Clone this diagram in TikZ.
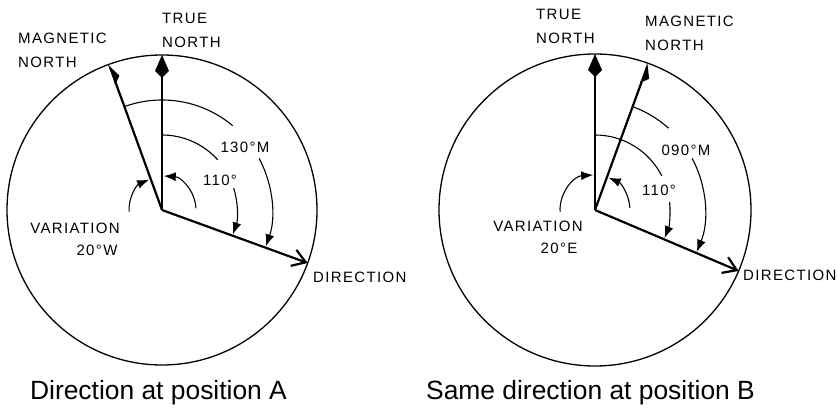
\documentclass[tikz,border=0pt]{standalone}
\usepackage{fontspec}
\setmainfont{Liberation Sans}
\newfontfamily\capsfont[LetterSpace=9]{Liberation Sans}
\usetikzlibrary{arrows.meta}

\tikzset{
 rim/.style={line width=1.3pt},
 needle/.style={line width=2.2pt},
 sweep/.style={line width=1.1pt},
 sweeptip/.style={sweep,-{Latex[length=12pt,width=9pt]}},
 truetip/.style={-{Kite[length=23pt,width=14pt,inset=7pt]}},
 magtip/.style={-{Kite[length=18pt,width=12pt,inset=6pt,right]}},
 caps/.style={font=\capsfont\fontsize{15}{24}\selectfont,inner sep=0pt,align=left},
 caption/.style={font=\fontsize{26.4}{30}\selectfont,inner sep=0pt},
}

\begin{document}
\begin{tikzpicture}[x=1pt,y=1pt]
\useasboundingbox (0,0) rectangle (837,409);
% ---------- position A
\begin{scope}[shift={(162,199)}]
\coordinate (oA) at (0,0);
\coordinate (tnA) at (90:155);
\coordinate (mnA) at (110:155);
\coordinate (dirA) at (-20:155);
\draw[rim] (oA) circle[radius=155pt];
\draw[needle,truetip] (oA)--(tnA);
\draw[needle,magtip] (oA)--(mnA);
\draw[needle,-{Straight Barb[length=13pt,width=17pt]}] (oA)--(dirA);
\draw[sweep] (110:110) arc[start angle=110,end angle=50,radius=110pt];
\draw[sweeptip] (28:110) arc[start angle=28,end angle=-19.3,radius=110pt];
\draw[sweep] (90:75) arc[start angle=90,end angle=42,radius=75pt];
\draw[sweeptip] (17:75) arc[start angle=17,end angle=-19,radius=75pt];
\draw[sweeptip] (3:34) arc[start angle=3,end angle=87,radius=34pt];
\draw[sweeptip] (183:33) arc[start angle=183,end angle=113,radius=33pt];
\node[caps,anchor=west] (tnlabA) at (0,180) {TRUE\\NORTH};
\node[caps,anchor=west] (mnlabA) at (-144,160) {MAGNETIC\\NORTH};
\node[caps,anchor=west] (dirlabA) at (151,-67) {DIRECTION};
\node[caps] (varA) at (-87,-18) {VARIATION};
\node[caps] (varvalA) at (-65,-40) {20°W};
\node[caps] (magA) at (83,63) {130°M};
\node[caps] (trueA) at (58,30) {110°};
\node[caption] (capA) at (-3.5,-183) {Direction at position A};
\end{scope}
% ---------- position B
\begin{scope}[shift={(595,199)}]
\coordinate (oB) at (0,0);
\coordinate (tnB) at (90:156);
\coordinate (mnB) at (70:156);
\coordinate (dirB) at (-23:156);
\draw[rim] (oB) circle[radius=156pt];
\draw[needle,truetip] (oB)--(tnB);
\draw[needle,magtip] (oB)--(mnB);
\draw[needle,-{Straight Barb[length=13pt,width=17pt]}] (oB)--(dirB);
\draw[sweep] (70:110) arc[start angle=70,end angle=48,radius=110pt];
\draw[sweeptip] (28:110) arc[start angle=28,end angle=-22.3,radius=110pt];
\draw[sweep] (90:75) arc[start angle=90,end angle=27,radius=75pt];
\draw[sweeptip] (6:75) arc[start angle=6,end angle=-22,radius=75pt];
\draw[sweeptip] (3:35) arc[start angle=3,end angle=67,radius=35pt];
\draw[sweeptip] (183:35) arc[start angle=183,end angle=93,radius=35pt];
\node[caps,anchor=west] (tnlabB) at (-59,184) {TRUE\\NORTH};
\node[caps,anchor=west] (mnlabB) at (50,177) {MAGNETIC\\NORTH};
\node[caps,anchor=west] (dirlabB) at (148,-65) {DIRECTION};
\node[caps] (varB) at (-57,-16) {VARIATION};
\node[caps] (varvalB) at (-36,-38) {20°E};
\node[caps] (magB) at (91,60) {090°M};
\node[caps] (trueB) at (64,20) {110°};
\node[caption] (capB) at (-4.5,-183) {Same direction at position B};
\end{scope}
\end{tikzpicture}
\end{document}
